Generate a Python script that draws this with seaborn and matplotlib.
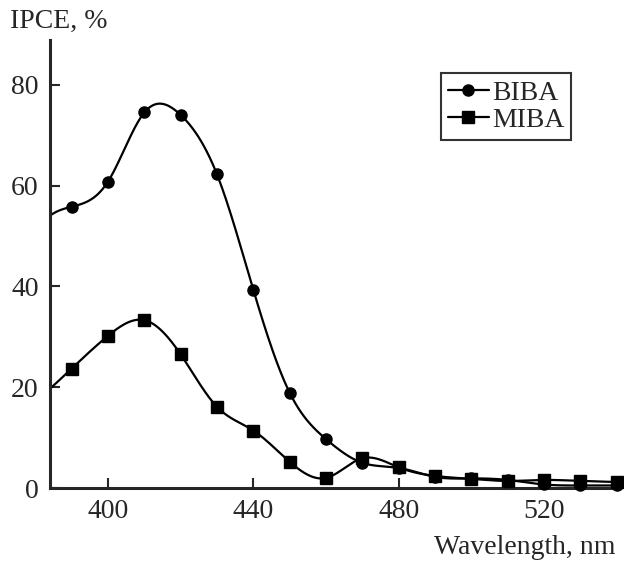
import numpy as np
import matplotlib
matplotlib.use("Agg")
import matplotlib.pyplot as plt
import seaborn as sns
import pandas as pd
from matplotlib.lines import Line2D

# values
wavelength = [390, 400, 410, 420, 430, 440, 450, 460, 470, 480, 490, 500, 510, 520, 530, 540]
biba = [55.8, 60.8, 74.5, 74.0, 62.2, 39.3, 18.9, 9.7, 5.0, 4.0, 2.2, 1.9, 1.6, 0.7, 0.5, 0.5]
miba = [23.7, 30.2, 33.3, 26.5, 16.1, 11.4, 5.2, 2.0, 5.9, 4.1, 2.4, 1.8, 1.4, 1.6, 1.4, 1.2]


def natural_spline(x, y, xs):
    # plain natural cubic spline, used only to draw the smooth line
    x = np.asarray(x, float)
    y = np.asarray(y, float)
    n = len(x)
    h = np.diff(x)
    A = np.zeros((n, n))
    b = np.zeros(n)
    A[0, 0] = A[-1, -1] = 1
    for i in range(1, n - 1):
        A[i, i - 1] = h[i - 1]
        A[i, i] = 2 * (h[i - 1] + h[i])
        A[i, i + 1] = h[i]
        b[i] = 6 * ((y[i + 1] - y[i]) / h[i] - (y[i] - y[i - 1]) / h[i - 1])
    M = np.linalg.solve(A, b)
    idx = np.clip(np.searchsorted(x, xs) - 1, 0, n - 2)
    x0, x1 = x[idx], x[idx + 1]
    hh = x1 - x0
    t0, t1 = x1 - xs, xs - x0
    return (M[idx] * t0**3 / (6 * hh) + M[idx + 1] * t1**3 / (6 * hh)
            + (y[idx] / hh - M[idx] * hh / 6) * t0
            + (y[idx + 1] / hh - M[idx + 1] * hh / 6) * t1)


sns.set_style("ticks")
plt.rcParams["font.family"] = ["Liberation Serif", "DejaVu Serif"]

fig = plt.figure(figsize=(6.24, 5.63), dpi=100)
ax = fig.add_axes([0.080, 0.1332, 0.914, 0.796])

XLIM = (384, 541)
xs = np.linspace(XLIM[0], XLIM[1], 600)

points = pd.DataFrame({"wavelength": wavelength, "BIBA": biba, "MIBA": miba})

for name, marker, ms in [("BIBA", "o", 8), ("MIBA", "s", 8.5)]:
    smooth = natural_spline(points["wavelength"], points[name], xs)
    sns.lineplot(x=xs, y=smooth, color="black", lw=1.6, ax=ax, legend=False)
    ax.plot(points["wavelength"], points[name], ls="none", marker=marker,
            ms=ms, color="black", clip_on=False, zorder=3)

ax.set_xlim(*XLIM)
ax.set_ylim(0, 88.9)
ax.set_xticks([400, 440, 480, 520])
ax.set_yticks([0, 20, 40, 60, 80])
ax.set_xlabel("")
ax.set_ylabel("")
sns.despine(ax=ax)
for s in ["left", "bottom"]:
    ax.spines[s].set_linewidth(2.2)
ax.tick_params(direction="in", length=7, width=1.5, labelsize=20, pad=8)

handles = [Line2D([], [], color="black", lw=1.6, marker="o", ms=8),
           Line2D([], [], color="black", lw=1.6, marker="s", ms=8.5)]
leg = ax.legend(handles, ["BIBA", "MIBA"], loc="upper left",
                bbox_to_anchor=(0.685, 0.925), fontsize=20, frameon=True,
                fancybox=False, handlelength=1.5, handletextpad=0.1,
                borderpad=0.25, labelspacing=0.05, borderaxespad=0)
leg.get_frame().set_edgecolor("black")
leg.get_frame().set_linewidth(1.5)

fig.text(0.016, 0.962, "IPCE, %", fontsize=20, va="center", ha="left")
fig.text(0.987, 0.028, "Wavelength, nm", fontsize=20, va="center", ha="right")

plt.savefig("out.png", dpi=100)
